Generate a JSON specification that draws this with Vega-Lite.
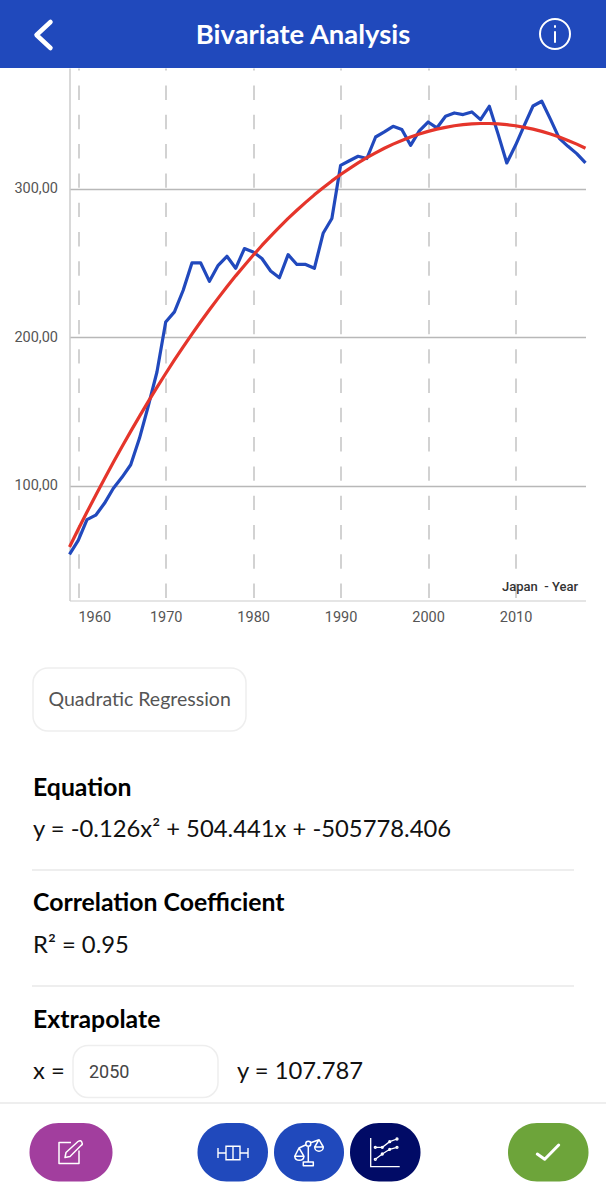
{
"$schema":"https://vega.github.io/schema/vega-lite/v6.json",
"description":"Bivariate Analysis: Japan by year with quadratic regression",
"width":516,"height":532.5,"autosize":"none",
"padding":{"left":69.5,"top":68,"right":20.5,"bottom":599.5},
"background":"#ffffff",
"config":{"view":{"stroke":null}},
"resolve":{"scale":{"x":"independent","y":"independent","color":"independent"}},
"layer":[
{"data":{"values":[
{"year":1959,"series":"Japan","value":53.6},{"year":1960,"series":"Japan","value":63},{"year":1961,"series":"Japan","value":77},{"year":1962,"series":"Japan","value":80},{"year":1963,"series":"Japan","value":88},{"year":1964,"series":"Japan","value":98},{"year":1965,"series":"Japan","value":105.5},{"year":1966,"series":"Japan","value":114},{"year":1967,"series":"Japan","value":131.8},{"year":1968,"series":"Japan","value":153.4},{"year":1969,"series":"Japan","value":176.5},{"year":1970,"series":"Japan","value":210.2},{"year":1971,"series":"Japan","value":217},{"year":1972,"series":"Japan","value":231.6},{"year":1973,"series":"Japan","value":250},{"year":1974,"series":"Japan","value":250},{"year":1975,"series":"Japan","value":237.6},{"year":1976,"series":"Japan","value":248.4},{"year":1977,"series":"Japan","value":254.5},{"year":1978,"series":"Japan","value":246.4},{"year":1979,"series":"Japan","value":259.7},{"year":1980,"series":"Japan","value":257.4},{"year":1981,"series":"Japan","value":253},{"year":1982,"series":"Japan","value":244.6},{"year":1983,"series":"Japan","value":240},{"year":1984,"series":"Japan","value":255.6},{"year":1985,"series":"Japan","value":249},{"year":1986,"series":"Japan","value":249},{"year":1987,"series":"Japan","value":246.4},{"year":1988,"series":"Japan","value":270},{"year":1989,"series":"Japan","value":280},{"year":1990,"series":"Japan","value":315.8},{"year":1991,"series":"Japan","value":318.9},{"year":1992,"series":"Japan","value":321.9},{"year":1993,"series":"Japan","value":320.4},{"year":1994,"series":"Japan","value":334.9},{"year":1995,"series":"Japan","value":338.3},{"year":1996,"series":"Japan","value":342.1},{"year":1997,"series":"Japan","value":339.9},{"year":1998,"series":"Japan","value":329.3},{"year":1999,"series":"Japan","value":339},{"year":2000,"series":"Japan","value":345},{"year":2001,"series":"Japan","value":341},{"year":2002,"series":"Japan","value":348.9},{"year":2003,"series":"Japan","value":351.1},{"year":2004,"series":"Japan","value":350},{"year":2005,"series":"Japan","value":351.8},{"year":2006,"series":"Japan","value":346.6},{"year":2007,"series":"Japan","value":355.6},{"year":2008,"series":"Japan","value":337},{"year":2009,"series":"Japan","value":317.4},{"year":2010,"series":"Japan","value":329.3},{"year":2011,"series":"Japan","value":342.8},{"year":2012,"series":"Japan","value":355.8},{"year":2013,"series":"Japan","value":359},{"year":2014,"series":"Japan","value":346.8},{"year":2015,"series":"Japan","value":334},{"year":2016,"series":"Japan","value":328.6},{"year":2017,"series":"Japan","value":323.7},{"year":2018,"series":"Japan","value":317.4},
{"year":1959,"series":"Regression","value":58.6},{"year":1960,"series":"Regression","value":70.5},{"year":1961,"series":"Regression","value":82.1},{"year":1962,"series":"Regression","value":93.5},{"year":1963,"series":"Regression","value":104.6},{"year":1964,"series":"Regression","value":115.5},{"year":1965,"series":"Regression","value":126.1},{"year":1966,"series":"Regression","value":136.5},{"year":1967,"series":"Regression","value":146.6},{"year":1968,"series":"Regression","value":156.5},{"year":1969,"series":"Regression","value":166.1},{"year":1970,"series":"Regression","value":175.5},{"year":1971,"series":"Regression","value":184.6},{"year":1972,"series":"Regression","value":193.4},{"year":1973,"series":"Regression","value":202},{"year":1974,"series":"Regression","value":210.4},{"year":1975,"series":"Regression","value":218.5},{"year":1976,"series":"Regression","value":226.3},{"year":1977,"series":"Regression","value":233.9},{"year":1978,"series":"Regression","value":241.3},{"year":1979,"series":"Regression","value":248.3},{"year":1980,"series":"Regression","value":255.2},{"year":1981,"series":"Regression","value":261.8},{"year":1982,"series":"Regression","value":268.1},{"year":1983,"series":"Regression","value":274.1},{"year":1984,"series":"Regression","value":280},{"year":1985,"series":"Regression","value":285.5},{"year":1986,"series":"Regression","value":290.8},{"year":1987,"series":"Regression","value":295.9},{"year":1988,"series":"Regression","value":300.7},{"year":1989,"series":"Regression","value":305.3},{"year":1990,"series":"Regression","value":309.6},{"year":1991,"series":"Regression","value":313.6},{"year":1992,"series":"Regression","value":317.4},{"year":1993,"series":"Regression","value":321},{"year":1994,"series":"Regression","value":324.2},{"year":1995,"series":"Regression","value":327.3},{"year":1996,"series":"Regression","value":330.1},{"year":1997,"series":"Regression","value":332.6},{"year":1998,"series":"Regression","value":334.9},{"year":1999,"series":"Regression","value":336.9},{"year":2000,"series":"Regression","value":338.7},{"year":2001,"series":"Regression","value":340.2},{"year":2002,"series":"Regression","value":341.4},{"year":2003,"series":"Regression","value":342.5},{"year":2004,"series":"Regression","value":343.2},{"year":2005,"series":"Regression","value":343.7},{"year":2006,"series":"Regression","value":344},{"year":2007,"series":"Regression","value":344},{"year":2008,"series":"Regression","value":343.7},{"year":2009,"series":"Regression","value":343.2},{"year":2010,"series":"Regression","value":342.5},{"year":2011,"series":"Regression","value":341.4},{"year":2012,"series":"Regression","value":340.2},{"year":2013,"series":"Regression","value":338.7},{"year":2014,"series":"Regression","value":336.9},{"year":2015,"series":"Regression","value":334.9},{"year":2016,"series":"Regression","value":332.6},{"year":2017,"series":"Regression","value":330.1},{"year":2018,"series":"Regression","value":327.3}
]},
 "mark":{"type":"line","strokeWidth":3.2,"strokeJoin":"round"},
 "encoding":{
  "x":{"field":"year","type":"quantitative","scale":{"domain":[1959,2018],"nice":false,"zero":false},
   "axis":{"title":null,"values":[1960,1970,1980,1990,2000,2010],"format":"d","ticks":false,"domainColor":"#dddddd","domainWidth":1.5,
    "grid":true,"gridColor":"#bbbbbb","gridWidth":1.3,"gridDash":[14.4,14.9],"gridDashOffset":12.3,
    "labelFont":"Roboto","labelFontSize":14.5,"labelColor":"#555555","labelPadding":10,"labelFlush":false,
    "labelOffset":{"condition":{"test":"datum.value==1960","value":16},"value":0}}},
  "y":{"field":"value","type":"quantitative","scale":{"domain":[22.5,381.4],"nice":false,"zero":false},
   "axis":{"title":null,"values":[100,200,300],"labelExpr":"replace(format(datum.value,'.2f'),'.',',')","ticks":false,"domainColor":"#cccccc","domainWidth":1.5,
    "grid":true,"gridColor":"#b8b8b8","gridWidth":1.3,
    "labelFont":"Roboto","labelFontSize":14.5,"labelColor":"#555555","labelPadding":12}},
  "color":{"field":"series","type":"nominal","legend":null,"scale":{"domain":["Japan","Regression"],"range":["#2149bd","#e5352b"]}}
 }},
{"data":{"values":[{"part":"screen"}]},"layer":[
 {"mark":{"type":"rect","color":"#2049bc"},"encoding":{"x":{"datum":0,"type":"quantitative","axis":null,"scale":{"domain":[69.5,585.5],"nice":false,"zero":false}},"x2":{"datum":606},"y":{"datum":0,"type":"quantitative","axis":null,"scale":{"domain":[600.5,68],"nice":false,"zero":false}},"y2":{"datum":68}}},
 {"mark":{"type":"text","align":"center","baseline":"alphabetic","font":"Lato","fontWeight":700,"fontSize":27.4,"color":"#ffffff"},"encoding":{"x":{"datum":303,"type":"quantitative","axis":null},"y":{"datum":43.5,"type":"quantitative","axis":null},"text":{"value":"Bivariate Analysis"}}},
 {"mark":{"type":"point","shape":"M7,-13 L-7,0 L7,13","size":4,"filled":false,"stroke":"#ffffff","strokeWidth":4.5,"opacity":1,"strokeCap":"round","strokeJoin":"round"},"encoding":{"x":{"datum":43.5,"type":"quantitative","axis":null},"y":{"datum":35,"type":"quantitative","axis":null}}},
 {"mark":{"type":"point","shape":"M-15,0 A15,15 0 1 1 15,0 A15,15 0 1 1 -15,0 Z M0,-2 L0,8 M0,-8 L0,-7","size":4,"filled":false,"stroke":"#ffffff","strokeWidth":2,"opacity":1,"strokeCap":"round"},"encoding":{"x":{"datum":555,"type":"quantitative","axis":null},"y":{"datum":34,"type":"quantitative","axis":null}}},
 {"mark":{"type":"text","align":"right","baseline":"alphabetic","font":"Roboto","fontWeight":500,"fontSize":13,"color":"#333333"},"encoding":{"x":{"datum":578,"type":"quantitative","axis":null},"y":{"datum":591,"type":"quantitative","axis":null},"text":{"value":"Japan \u00a0- Year"}}},
 {"mark":{"type":"rect","fill":"#ffffff","stroke":"#eeeeee","strokeWidth":1.5,"cornerRadius":15},"encoding":{"x":{"datum":33,"type":"quantitative","axis":null},"x2":{"datum":246},"y":{"datum":668,"type":"quantitative","axis":null},"y2":{"datum":731}}},
 {"mark":{"type":"text","align":"left","baseline":"alphabetic","font":"Lato","fontSize":19.5,"color":"#555555"},"encoding":{"x":{"datum":48.5,"type":"quantitative","axis":null},"y":{"datum":706,"type":"quantitative","axis":null},"text":{"value":"Quadratic Regression"}}},
 {"mark":{"type":"text","align":"left","baseline":"alphabetic","font":"Lato","fontWeight":700,"fontSize":24.8,"color":"#000000"},"encoding":{"x":{"datum":33,"type":"quantitative","axis":null},"y":{"datum":796,"type":"quantitative","axis":null},"text":{"value":"Equation"}}},
 {"mark":{"type":"text","align":"left","baseline":"alphabetic","font":"Lato","fontSize":23.8,"color":"#111111"},"encoding":{"x":{"datum":33,"type":"quantitative","axis":null},"y":{"datum":837,"type":"quantitative","axis":null},"text":{"value":"y = -0.126x² + 504.441x + -505778.406"}}},
 {"mark":{"type":"rule","color":"#e8e8e8","strokeWidth":1.5},"encoding":{"x":{"datum":32,"type":"quantitative","axis":null},"x2":{"datum":574},"y":{"datum":870,"type":"quantitative","axis":null}}},
 {"mark":{"type":"text","align":"left","baseline":"alphabetic","font":"Lato","fontWeight":700,"fontSize":24.8,"color":"#000000"},"encoding":{"x":{"datum":33,"type":"quantitative","axis":null},"y":{"datum":911,"type":"quantitative","axis":null},"text":{"value":"Correlation Coefficient"}}},
 {"mark":{"type":"text","align":"left","baseline":"alphabetic","font":"Lato","fontSize":23.8,"color":"#111111"},"encoding":{"x":{"datum":33,"type":"quantitative","axis":null},"y":{"datum":953,"type":"quantitative","axis":null},"text":{"value":"R² = 0.95"}}},
 {"mark":{"type":"rule","color":"#e8e8e8","strokeWidth":1.5},"encoding":{"x":{"datum":32,"type":"quantitative","axis":null},"x2":{"datum":574},"y":{"datum":986,"type":"quantitative","axis":null}}},
 {"mark":{"type":"text","align":"left","baseline":"alphabetic","font":"Lato","fontWeight":700,"fontSize":24.8,"color":"#000000"},"encoding":{"x":{"datum":33,"type":"quantitative","axis":null},"y":{"datum":1028,"type":"quantitative","axis":null},"text":{"value":"Extrapolate"}}},
 {"mark":{"type":"text","align":"left","baseline":"alphabetic","font":"Lato","fontSize":23.8,"color":"#111111"},"encoding":{"x":{"datum":33,"type":"quantitative","axis":null},"y":{"datum":1079,"type":"quantitative","axis":null},"text":{"value":"x ="}}},
 {"mark":{"type":"rect","fill":"#ffffff","stroke":"#eeeeee","strokeWidth":1.5,"cornerRadius":15},"encoding":{"x":{"datum":73,"type":"quantitative","axis":null},"x2":{"datum":218},"y":{"datum":1045.5,"type":"quantitative","axis":null},"y2":{"datum":1097.5}}},
 {"mark":{"type":"text","align":"left","baseline":"alphabetic","font":"Roboto","fontSize":18,"color":"#444444"},"encoding":{"x":{"datum":89,"type":"quantitative","axis":null},"y":{"datum":1078,"type":"quantitative","axis":null},"text":{"value":"2050"}}},
 {"mark":{"type":"text","align":"left","baseline":"alphabetic","font":"Lato","fontSize":23.8,"color":"#111111"},"encoding":{"x":{"datum":237,"type":"quantitative","axis":null},"y":{"datum":1079,"type":"quantitative","axis":null},"text":{"value":"y = 107.787"}}},
 {"mark":{"type":"rule","color":"#e8e8e8","strokeWidth":1.5},"encoding":{"x":{"datum":0,"type":"quantitative","axis":null},"x2":{"datum":606},"y":{"datum":1103,"type":"quantitative","axis":null}}},
 {"mark":{"type":"rect","color":"#a23e9e","cornerRadius":29},"encoding":{"x":{"datum":29.5,"type":"quantitative","axis":null},"x2":{"datum":112.5},"y":{"datum":1123,"type":"quantitative","axis":null},"y2":{"datum":1181.5}}},
 {"mark":{"type":"rect","color":"#2049bc","cornerRadius":29},"encoding":{"x":{"datum":197.5,"type":"quantitative","axis":null},"x2":{"datum":268},"y":{"datum":1123,"type":"quantitative","axis":null},"y2":{"datum":1181.5}}},
 {"mark":{"type":"rect","color":"#2049bc","cornerRadius":29},"encoding":{"x":{"datum":274,"type":"quantitative","axis":null},"x2":{"datum":344},"y":{"datum":1123,"type":"quantitative","axis":null},"y2":{"datum":1181.5}}},
 {"mark":{"type":"rect","color":"#010b66","cornerRadius":29},"encoding":{"x":{"datum":350,"type":"quantitative","axis":null},"x2":{"datum":420.5},"y":{"datum":1123,"type":"quantitative","axis":null},"y2":{"datum":1181.5}}},
 {"mark":{"type":"rect","color":"#6da43a","cornerRadius":29},"encoding":{"x":{"datum":508,"type":"quantitative","axis":null},"x2":{"datum":588.5},"y":{"datum":1123,"type":"quantitative","axis":null},"y2":{"datum":1181.5}}},
 {"mark":{"type":"point","shape":"M2,-10 L-10,-10 L-10,11 L10,11 L10,-2 M-4,5 L-3,0 L9,-11 Q12,-13 13,-10 Q14,-8 12,-7 L1,4 Z","size":4,"filled":false,"stroke":"#ffffff","strokeWidth":1.5,"opacity":1,"strokeJoin":"round"},"encoding":{"x":{"datum":69,"type":"quantitative","axis":null},"y":{"datum":1152.5,"type":"quantitative","axis":null}}},
 {"mark":{"type":"point","shape":"M-15,-5 L-15,5 M-15,0 L-7,0 M-7,-6.7 L7,-6.7 L7,6.7 L-7,6.7 Z M0,-6.7 L0,6.7 M7,0 L15,0 M15,-5 L15,5","size":4,"filled":false,"stroke":"#ffffff","strokeWidth":1.4,"opacity":1},"encoding":{"x":{"datum":233,"type":"quantitative","axis":null},"y":{"datum":1153,"type":"quantitative","axis":null}}},
 {"mark":{"type":"point","shape":"M-5.7,10 L4.3,10 L4.3,13.7 L-5.7,13.7 Z M-0.7,10 L-0.7,-6 M-3.2,-8.3 A2.5,2.5 0 1 1 1.8,-8.3 A2.5,2.5 0 1 1 -3.2,-8.3 Z M-10,-4 L-3,-7.3 M1.7,-9.2 L10,-12.3 M-10,-4 L-14.3,4.3 L-5,4.3 Z M-14.3,4.3 A4.7,4.7 0 0 0 -5,4.3 M10,-12.3 L5.7,-5 L14.3,-5 Z M5.7,-5 A4.3,4.3 0 0 0 14.3,-5","size":4,"filled":false,"stroke":"#ffffff","strokeWidth":1.5,"opacity":1,"strokeJoin":"round"},"encoding":{"x":{"datum":309,"type":"quantitative","axis":null},"y":{"datum":1152,"type":"quantitative","axis":null}}},
 {"mark":{"type":"point","shape":"M-14.3,-14 L-14.3,14.7 L14.7,14.7 M-9.7,-4.7 L-2.7,-4.7 L4.7,-10.3 L12,-13 M-9.7,7.3 L-2.7,2 L4.7,-2.7 L12,-4.7 M-10.7,-4.7 a1,1 0 1 0 2,0 a1,1 0 1 0 -2,0 M-3.7,-4.7 a1,1 0 1 0 2,0 a1,1 0 1 0 -2,0 M3.7,-10.3 a1,1 0 1 0 2,0 a1,1 0 1 0 -2,0 M11,-13 a1,1 0 1 0 2,0 a1,1 0 1 0 -2,0 M-10.7,7.3 a1,1 0 1 0 2,0 a1,1 0 1 0 -2,0 M-3.7,2 a1,1 0 1 0 2,0 a1,1 0 1 0 -2,0 M3.7,-2.7 a1,1 0 1 0 2,0 a1,1 0 1 0 -2,0 M11,-4.7 a1,1 0 1 0 2,0 a1,1 0 1 0 -2,0","size":4,"filled":false,"stroke":"#ffffff","strokeWidth":1.3,"opacity":1},"encoding":{"x":{"datum":385,"type":"quantitative","axis":null},"y":{"datum":1152,"type":"quantitative","axis":null}}},
 {"mark":{"type":"point","shape":"M-10.7,2 L-3.3,7.3 L10.7,-7","size":4,"filled":false,"stroke":"#ffffff","strokeWidth":3,"opacity":1,"strokeCap":"round","strokeJoin":"round"},"encoding":{"x":{"datum":548,"type":"quantitative","axis":null},"y":{"datum":1152,"type":"quantitative","axis":null}}}
]}
]
}
